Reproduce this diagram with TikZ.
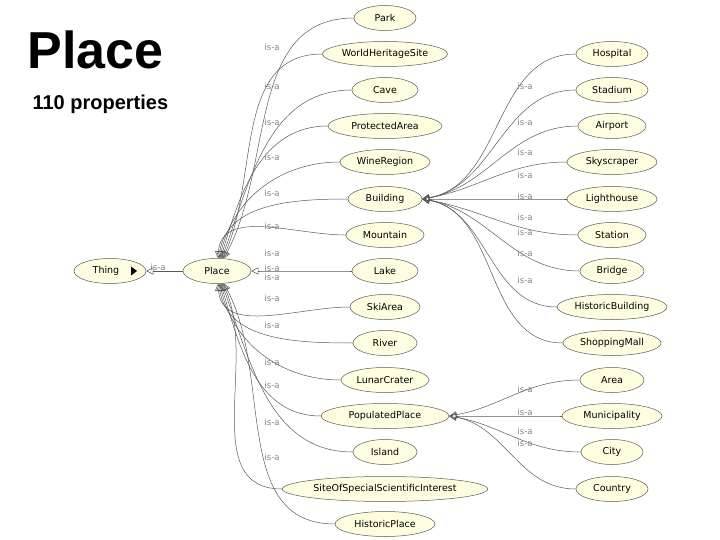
\documentclass[tikz,border=0pt]{standalone}
\usepackage{fontspec}
\setmainfont{Liberation Sans}
\newfontfamily\lbl{DejaVu Sans}
\usetikzlibrary{arrows.meta,shapes.geometric}
\begin{document}
\begin{tikzpicture}[x=1pt,y=-1pt,
  cls/.style={ellipse,draw=gray!70!black,fill=yellow!12,line width=0.5pt,minimum height=25pt,inner sep=1pt,font=\lbl\fontsize{9.5}{11}\selectfont},
  edge/.style={draw=gray!70!black,line width=0.5pt,-{Triangle[open,length=7pt,width=7pt]}},
  isa/.style={text=gray,font=\lbl\fontsize{8.5}{9}\selectfont,inner sep=0pt}]
\useasboundingbox (0,0) rectangle (720,540);
\node[anchor=west,font=\bfseries\fontsize{52}{56}\selectfont] (title) at (24,50) {Place};
\node[anchor=west,font=\bfseries\fontsize{20}{24}\selectfont] (props) at (29,104) {110 properties};
\node[cls,minimum width=72pt] (Thing) at (110,271) {\hspace*{-8pt}Thing};
\node[cls,minimum width=68pt] (Place) at (217,271) {Place};
\draw[edge] (Place) -- (Thing);
\node[isa] at (158,267) {is-a};
\fill (137,271) -- (131,266.5) -- (131,275.5) -- cycle;
% middle column
\foreach \n/\t/\y/\w/\ly in {
 Park/Park/18/62/0,
 WHS/WorldHeritageSite/54/108/47,
 Cave/Cave/90/66/86,
 PA/ProtectedArea/126/114/122,
 WR/WineRegion/162/90/157,
 Building/Building/199/74/193,
 Mountain/Mountain/235/78/226,
 Lake/Lake/271/66/268,
 SkiArea/SkiArea/307/70/298,
 River/River/343/64/325,
 LC/LunarCrater/380/88/362,
 PP/PopulatedPlace/416/128/385,
 Island/Island/452/64/422,
 SSSI/SiteOfSpecialScientificInterest/489/172/457,
 HP/HistoricPlace/524/100/0}{
  \node[cls,minimum width=\w pt] (\n) at (385,\y) {\t};
  \pgfmathsetmacro\inang{\y<271 ? 60+\y*0.11 : (\y>271 ? -60-(540-\y)*0.11 : 0)}
  \draw[edge] (\n.west) to[out=180,in=\inang] (Place);
  \ifnum\ly>0 \node[isa] at (272,\ly) {is-a};\fi
}
\node[isa] at (272,253) {is-a};
\node[isa] at (272,277) {is-a};
% right column (Building)
\foreach \n/\t/\y/\w in {
 Hospital/Hospital/54/72,
 Stadium/Stadium/90/72,
 Airport/Airport/126/68,
 Skyscraper/Skyscraper/162/90,
 Lighthouse/Lighthouse/199/90,
 Station/Station/235/68,
 Bridge/Bridge/271/64,
 HB/HistoricBuilding/307/110,
 SM/ShoppingMall/343/98}{
  \node[cls,minimum width=\w pt] (\n) at (612,\y) {\t};
  \pgfmathsetmacro\inang{\y<199 ? 10 : (\y>199 ? -10 : 0)}
  \draw[edge] (\n.west) to[out=180,in=\inang] (Building.east);
}
\foreach \y in {86,122,152,175,196,217,232,253,280}{\node[isa] at (525,\y) {is-a};}
% populated place
\foreach \n/\t/\y/\w in {
 Area/Area/380/64,
 Mun/Municipality/416/100,
 City/City/452/62,
 Country/Country/489/72}{
  \node[cls,minimum width=\w pt] (\n) at (612,\y) {\t};
  \pgfmathsetmacro\inang{\y<416 ? 10 : (\y>416 ? -10 : 0)}
  \draw[edge] (\n.west) to[out=180,in=\inang] (PP.east);
}
\foreach \y in {389,412,431,443}{\node[isa] at (525,\y) {is-a};}
\end{tikzpicture}
\end{document}
